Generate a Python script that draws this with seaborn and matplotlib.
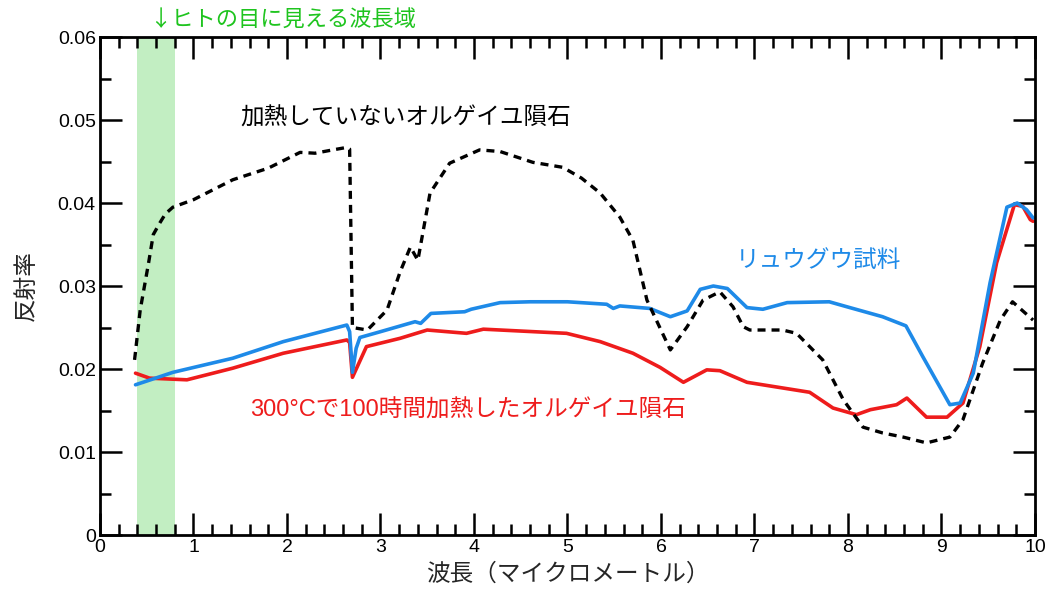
import matplotlib
matplotlib.use("Agg")
import matplotlib.pyplot as plt
from matplotlib.ticker import MultipleLocator
import seaborn as sns
import pandas as pd

# データ
# 加熱していないオルゲイユ隕石
orgueil_x = [0.37, 0.43, 0.46, 0.52, 0.57, 0.64, 0.70, 0.78, 1.0, 1.42, 1.8, 2.14, 2.3,
             2.49, 2.64, 2.67, 2.70, 2.86, 3.07, 3.21, 3.32, 3.40, 3.53, 3.74, 4.06,
             4.28, 4.63, 4.95, 5.15, 5.35, 5.56, 5.70, 5.85, 6.10, 6.28, 6.45, 6.63,
             6.77, 6.88, 6.95, 7.30, 7.45, 7.73, 7.95, 8.16, 8.37, 8.59, 8.84, 9.09,
             9.23, 9.44, 9.63, 9.76, 9.98]
orgueil_y = [0.0211, 0.0271, 0.0290, 0.0328, 0.0362, 0.0376, 0.0387, 0.0395, 0.0404,
             0.0428, 0.0442, 0.0461, 0.0460, 0.0464, 0.0467, 0.0465, 0.0250, 0.0247,
             0.0271, 0.0317, 0.0347, 0.0331, 0.0412, 0.0448, 0.0464, 0.0462, 0.0449,
             0.0443, 0.0430, 0.0412, 0.0383, 0.0355, 0.0283, 0.0223, 0.0251, 0.0283,
             0.0293, 0.0275, 0.0251, 0.0247, 0.0247, 0.0243, 0.0211, 0.0163, 0.0130,
             0.0123, 0.0118, 0.0111, 0.0118, 0.0139, 0.0207, 0.0259, 0.0281, 0.0259]

# リュウグウ試料
ryugu_x = [0.38, 0.78, 1.42, 1.96, 2.64, 2.67, 2.70, 2.74, 2.78, 3.0, 3.37, 3.43, 3.54,
           3.90, 3.97, 4.28, 4.6, 5.0, 5.42, 5.49, 5.56, 5.88, 6.10, 6.28, 6.42, 6.56,
           6.71, 6.92, 7.09, 7.35, 7.80, 8.02, 8.37, 8.62, 8.80, 9.09, 9.20, 9.34, 9.52,
           9.70, 9.81, 9.91, 9.98]
ryugu_y = [0.0181, 0.0196, 0.0213, 0.0233, 0.0253, 0.0245, 0.0196, 0.0225, 0.0238,
           0.0245, 0.0257, 0.0255, 0.0267, 0.0269, 0.0272, 0.0280, 0.0281, 0.0281,
           0.0278, 0.0273, 0.0276, 0.0273, 0.0263, 0.0270, 0.0296, 0.0300, 0.0297,
           0.0274, 0.0272, 0.0280, 0.0281, 0.0274, 0.0263, 0.0252, 0.0215, 0.0157,
           0.0159, 0.0195, 0.0304, 0.0395, 0.0400, 0.0392, 0.0382]

# 300°Cで100時間加熱したオルゲイユ隕石
heated_x = [0.38, 0.53, 0.93, 1.42, 1.96, 2.64, 2.67, 2.70, 2.85, 3.21, 3.50, 3.92,
            4.10, 4.99, 5.35, 5.70, 5.99, 6.24, 6.49, 6.63, 6.92, 7.59, 7.84, 8.09,
            8.24, 8.52, 8.63, 8.84, 9.06, 9.23, 9.41, 9.59, 9.78, 9.87, 9.95, 9.98]
heated_y = [0.0195, 0.0189, 0.0187, 0.0201, 0.0219, 0.0235, 0.0232, 0.0190, 0.0227,
            0.0237, 0.0247, 0.0243, 0.0248, 0.0243, 0.0233, 0.0219, 0.0202, 0.0184,
            0.0199, 0.0198, 0.0184, 0.0172, 0.0153, 0.0145, 0.0151, 0.0157, 0.0165,
            0.0142, 0.0142, 0.0159, 0.0227, 0.0328, 0.0398, 0.0396, 0.0380, 0.0378]

y_ticks = [0, 0.01, 0.02, 0.03, 0.04, 0.05, 0.06]
y_tick_labels = ["0", "0.01", "0.02", "0.03", "0.04", "0.05", "0.06"]
x_ticks = [0, 1, 2, 3, 4, 5, 6, 7, 8, 9, 10]
visible_band = (0.4, 0.8)

sns.set_theme(style="ticks")
plt.rcParams['font.family'] = ['Liberation Sans', 'Noto Sans CJK JP', 'DejaVu Sans']

df_org = pd.DataFrame({"波長": orgueil_x, "反射率": orgueil_y})
df_ryu = pd.DataFrame({"波長": ryugu_x, "反射率": ryugu_y})
df_hot = pd.DataFrame({"波長": heated_x, "反射率": heated_y})

fig = plt.figure(figsize=(10.47, 5.95), dpi=100)
ax = fig.add_axes([0.0955, 0.1008, 0.893, 0.837])

# 可視光の範囲
ax.axvspan(visible_band[0], visible_band[1], color="#c2eec2", lw=0, zorder=0)

sns.lineplot(data=df_hot, x="波長", y="反射率", color="#ee1c1c", lw=2.6, ax=ax)
sns.lineplot(data=df_ryu, x="波長", y="反射率", color="#1e8ae8", lw=2.6, ax=ax)
sns.lineplot(data=df_org, x="波長", y="反射率", color="black", lw=2.4,
             dashes=False, ax=ax).lines[-1].set_dashes((2.4, 1.8))

ax.set_xlim(0, 10)
ax.set_ylim(0, 0.06)
ax.set_xticks(x_ticks)
ax.set_yticks(y_ticks)
ax.set_yticklabels(y_tick_labels)
ax.xaxis.set_minor_locator(MultipleLocator(0.2))
ax.yaxis.set_minor_locator(MultipleLocator(0.005))
ax.tick_params(which="both", direction="in", top=True, right=True, width=1.8,
               labelsize=14, pad=3, colors="black")
ax.tick_params(which="major", length=16)
ax.tick_params(which="minor", length=8)
for s in ax.spines.values():
    s.set_linewidth(2)
    s.set_color("black")

ax.set_xlabel("波長（マイクロメートル）", fontsize=17, labelpad=5)
ax.set_ylabel("反射率", fontsize=17, labelpad=14)

# ラベル
ax.text(1.5, 0.0502, "加熱していないオルゲイユ隕石", fontsize=17, color="black", va="center")
ax.text(6.8, 0.0330, "リュウグウ試料", fontsize=17, color="#1e8ae8", va="center")
ax.text(1.6, 0.0150, "300°Cで100時間加熱したオルゲイユ隕石", fontsize=17,
        color="#ee1c1c", va="center")
ax.text(0.52, 0.0620, "↓ヒトの目に見える波長域", fontsize=16, color="#1ec41e",
        va="center", clip_on=False, family=['Noto Sans CJK JP', 'DejaVu Sans'])

fig.savefig("out.png", dpi=100)
